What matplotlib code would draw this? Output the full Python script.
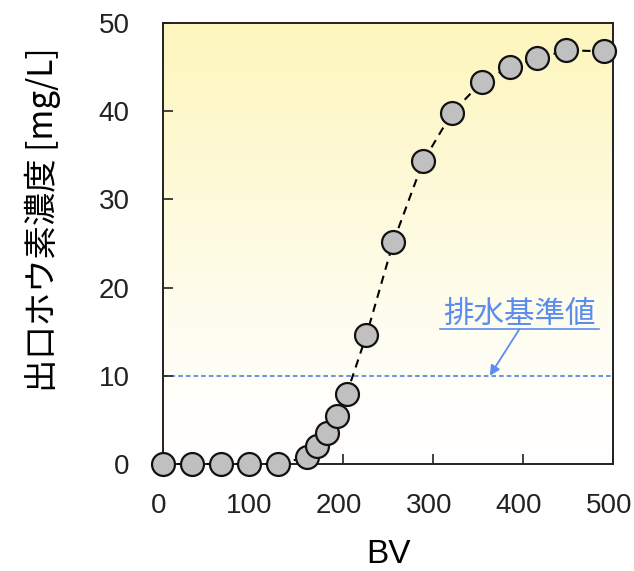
import numpy as np
import matplotlib
matplotlib.use("Agg")
import matplotlib.pyplot as plt
from matplotlib.colors import LinearSegmentedColormap
from matplotlib.transforms import ScaledTranslation

plt.rcParams['font.family'] = ['Liberation Sans', 'Noto Sans CJK JP', 'DejaVu Sans']

# data
bv = [0, 32, 64, 96, 128, 160, 171, 182, 193, 204, 226, 256, 289, 321, 354, 385, 416, 448, 490]
boron = [0, 0, 0, 0, 0, 0.8, 2.0, 3.5, 5.4, 7.9, 14.6, 25.2, 34.3, 39.8, 43.3, 45.0, 46.0, 46.9, 46.8]
limit_value = 10
limit_label = "排水基準値"
xticks = [0, 100, 200, 300, 400, 500]
yticks = [0, 10, 20, 30, 40, 50]
xlabel = "BV"
ylabel = "出口ホウ素濃度 [mg/L]"

fig = plt.figure(figsize=(6.34, 5.71), dpi=100)
ax = fig.add_axes([0.257, 0.1874, 0.710, 0.7723])
ax.set_xlim(0, 500)
ax.set_ylim(0, 50)

# gradient background
cmap = LinearSegmentedColormap.from_list("bg", [(0.0, "#ffffff"), (0.2, "#fffef8"), (1.0, "#fdf6bd")])
grad = np.linspace(0, 1, 256).reshape(-1, 1)
ax.imshow(grad, aspect='auto', cmap=cmap, origin='lower', extent=[0, 500, 0, 50], zorder=0)

ax.axhline(limit_value, color="#3a78d8", linestyle=(0, (3, 2)), linewidth=1.1, zorder=1)

ax.plot(bv, boron, color="black", linestyle=(0, (4, 3)), linewidth=1.5,
        marker='o', markersize=16.5, markerfacecolor="#c0c0c0",
        markeredgecolor="#111111", markeredgewidth=1.6, zorder=3, clip_on=False)

blue = "#5b8def"
ax.text(396, 16.9, limit_label, color=blue, fontsize=22, ha='center', va='center',
        family=['Noto Sans CJK JP'], zorder=4)
# underline
ax.plot([308, 484], [15.3, 15.3], color=blue, linewidth=1.2, zorder=4)
ax.annotate('', xy=(363, limit_value), xytext=(396, 15.3),
            arrowprops=dict(arrowstyle='-|>', color=blue, lw=1.3,
                            shrinkA=0, shrinkB=0, mutation_scale=15),
            zorder=4)

ax.set_xticks(xticks)
ax.set_yticks(yticks)
ax.tick_params(direction='in', length=7, width=1.2, labelsize=20, colors="#222222")
ax.tick_params(axis='x', pad=21)
ax.tick_params(axis='y', pad=24)
shift = ScaledTranslation(-4 / 100, 0, fig.dpi_scale_trans)
for lbl in ax.get_xticklabels():
    lbl.set_transform(lbl.get_transform() + shift)
for s in ax.spines.values():
    s.set_linewidth(1.4)
    s.set_color("#222222")
    s.set_zorder(2)

ax.set_xlabel(xlabel, fontsize=24, labelpad=14)
ax.set_ylabel(ylabel, fontsize=24, family=['Noto Sans CJK JP'])
ax.yaxis.set_label_coords(-0.226, 0.553)

fig.savefig("out.png", dpi=100)
